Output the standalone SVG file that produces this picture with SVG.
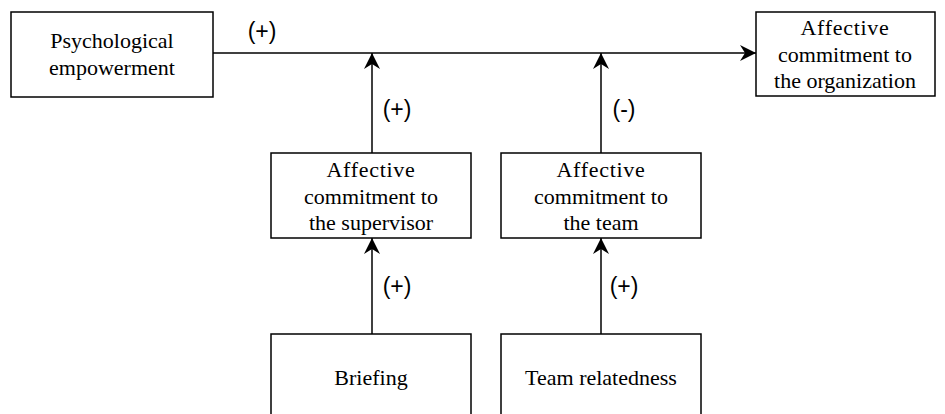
<svg xmlns="http://www.w3.org/2000/svg" width="945" height="414" viewBox="0 0 945 414">
  <style>
    .box { fill: #ffffff; stroke: #000000; stroke-width: 1.5; }
    .lbl { font-size: 22px; fill: #000000; text-anchor: middle; }
    .sign { font-size: 23px; fill: #000000; text-anchor: middle; }
    .edge { fill: none; stroke: #000000; stroke-width: 1.5; }
  </style>
  <defs>
    <marker id="arrow" viewBox="0 0 16 16" refX="16" refY="8" markerWidth="16" markerHeight="16" markerUnits="userSpaceOnUse" orient="auto">
      <path d="M0,0 L16,8 L0,16 L5,8 Z" fill="#000000"/>
    </marker>
  </defs>

  <g id="connectors" font-family="Liberation Sans, Arial, sans-serif">
    <line class="edge" x1="213" y1="53" x2="756" y2="53" marker-end="url(#arrow)"/>
    <line class="edge" x1="372" y1="153" x2="372" y2="53" marker-end="url(#arrow)"/>
    <line class="edge" x1="601" y1="153" x2="601" y2="53" marker-end="url(#arrow)"/>
    <line class="edge" x1="372" y1="334" x2="372" y2="238" marker-end="url(#arrow)"/>
    <line class="edge" x1="601" y1="334" x2="601" y2="238" marker-end="url(#arrow)"/>
    <text class="sign" x="262" y="39">(+)</text>
    <text class="sign" x="397" y="117">(+)</text>
    <text class="sign" x="624" y="117">(-)</text>
    <text class="sign" x="397" y="294">(+)</text>
    <text class="sign" x="624" y="294">(+)</text>
  </g>

  <g font-family="Liberation Serif, Times New Roman, serif">
    <g id="psychological-empowerment">
      <rect class="box" x="11" y="12" width="202" height="85"/>
      <text class="lbl" x="112" y="48">Psychological</text>
      <text class="lbl" x="112" y="75">empowerment</text>
    </g>

    <g id="commitment-organization">
      <rect class="box" x="756" y="12" width="179" height="84"/>
      <text class="lbl" x="845" y="35" letter-spacing="0.7">Affective</text>
      <text class="lbl" x="845" y="62">commitment to</text>
      <text class="lbl" x="845" y="88">the organization</text>
    </g>

    <g id="commitment-supervisor">
      <rect class="box" x="271" y="153" width="200" height="85"/>
      <text class="lbl" x="371" y="177" letter-spacing="0.7">Affective</text>
      <text class="lbl" x="371" y="204">commitment to</text>
      <text class="lbl" x="371" y="230">the supervisor</text>
    </g>

    <g id="commitment-team">
      <rect class="box" x="501" y="153" width="200" height="85"/>
      <text class="lbl" x="601" y="177" letter-spacing="0.7">Affective</text>
      <text class="lbl" x="601" y="204">commitment to</text>
      <text class="lbl" x="601" y="230">the team</text>
    </g>

    <g id="briefing">
      <rect class="box" x="271" y="334" width="200" height="100"/>
      <text class="lbl" x="371" y="385">Briefing</text>
    </g>

    <g id="team-relatedness">
      <rect class="box" x="501" y="334" width="200" height="100"/>
      <text class="lbl" x="601" y="385">Team relatedness</text>
    </g>
  </g>
</svg>
